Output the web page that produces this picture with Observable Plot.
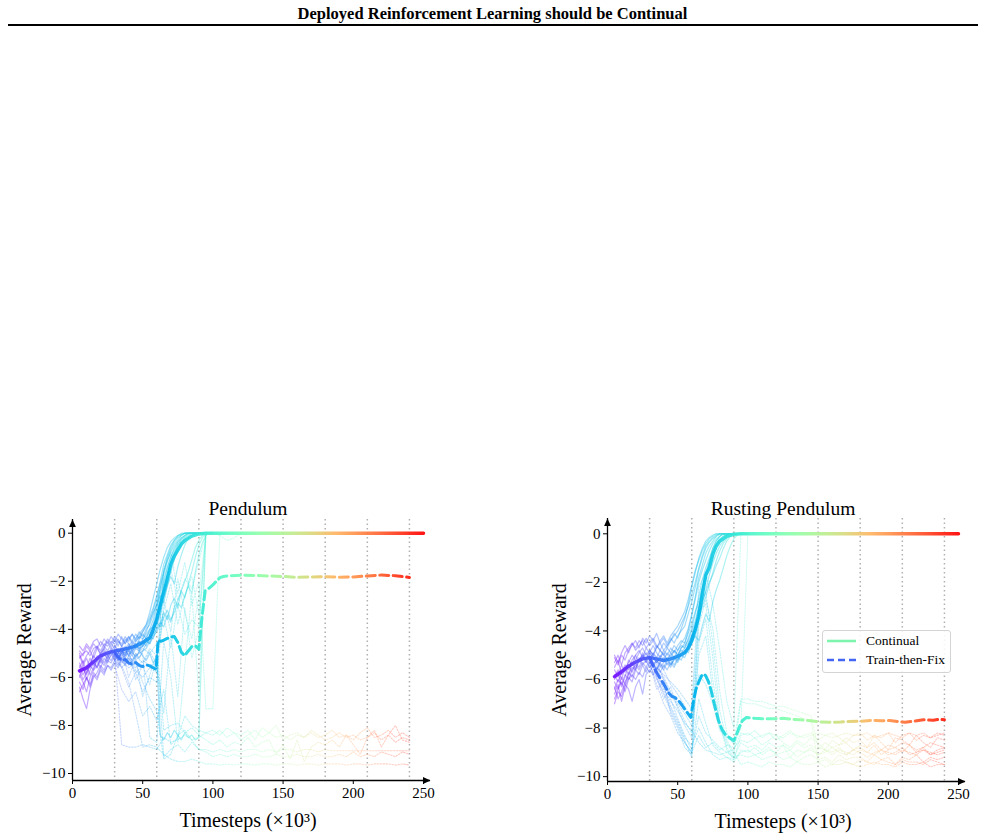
<!DOCTYPE html>
<html>
<head>
<meta charset="utf-8">
<script src="https://cdn.jsdelivr.net/npm/d3@7"></script>
<script src="https://cdn.jsdelivr.net/npm/@observablehq/plot@0.6"></script>
<style>
  body { margin: 0; background: #fff; }
  #page { position: relative; width: 985px; height: 836px; font-family: "Liberation Serif", "Times New Roman", serif; color: #000; }
  #title { position: absolute; left: 0; top: 4px; width: 985px; text-align: center; font-weight: bold; font-size: 16.5px; }
  #rule { position: absolute; left: 8px; top: 24px; width: 970px; height: 2px; background: #000; }
  .panel { position: absolute; top: 490px; }
  #legend { position: absolute; left: 822px; top: 630px; width: 127px; height: 41px; border: 1px solid #d4d4d4; border-radius: 3px; background: rgba(255,255,255,0.85); font-size: 13.5px; }
  #legend .row { position: absolute; left: 4px; height: 19px; display: flex; align-items: center; }
  #legend svg { width: 30px; height: 10px; margin-right: 9px; }
</style>
</head>
<body>
<div id="page">
  <div id="title">Deployed Reinforcement Learning should be Continual</div>
  <div id="rule"></div>
  <div id="p1" class="panel" style="left:0px"></div>
  <div id="p2" class="panel" style="left:535px"></div>
  <div id="legend"></div>
</div>
<script>
// ---- axes, labels and deployment boundaries ----
const deployTimes = [30, 60, 90, 120, 150, 180, 210, 240];
const xTicks = [0, 50, 100, 150, 200, 250];
const yTicks = [-10, -8, -6, -4, -2, 0];
const panelTitles = ["Pendulum", "Rusting Pendulum"];
const xLabel = "Timesteps (×10³)";
const yLabel = "Average Reward";
const seriesNames = ["Continual", "Train-then-Fix"];

// timesteps (×10³) at which the individual runs are sampled
const contSteps = [5, 7.5, 10, 12.5, 15, 17.5, 20, 22.5, 25, 27.5, 30, 32.5, 35, 37.5, 40, 42.5, 45, 47.5, 50, 52.5,
  55, 57.5, 60, 62.5, 65, 67.5, 70, 72.5, 75, 77.5, 80, 82.5, 85, 87.5, 90, 92.5, 95, 97.5, 100];
const fixSteps = [30, 35, 40, 45, 50, 55, 60, 65, 70, 75, 80, 85, 90, 95, 100, 105, 110, 115, 120, 125, 130, 135, 140,
  145, 150, 155, 160, 165, 170, 175, 180, 185, 190, 195, 200, 205, 210, 215, 220, 225, 230, 235, 240];

// ---- Pendulum: mean curves ----
const pendulumContinual = [[5,-5.73],[10,-5.6],[15,-5.35],[20,-5.1],[25,-4.98],[30,-4.9],[35,-4.85],[40,-4.78],[45,-4.7],
  [50,-4.55],[55,-4.35],[57.5,-4.0],[60,-3.6],[62.5,-3.0],[65,-2.45],[67.5,-1.9],[70,-1.3],[72.5,-0.95],[75,-0.7],
  [77.5,-0.45],[80,-0.3],[85,-0.12],[90,-0.03],[95,0],[250,0]];
const pendulumTrainFix = [[30,-4.95],[32.5,-5.15],[35,-5.3],[37.5,-5.25],[40,-5.4],[42.5,-5.45],[45,-5.38],[47.5,-5.5],
  [50,-5.55],[52.5,-5.48],[55,-5.52],[57.5,-5.6],[59.5,-5.66],[61,-4.45],[63,-4.5],[65,-4.45],[67.5,-4.38],[70,-4.32],
  [72.5,-4.3],[75,-4.55],[77.5,-4.95],[80,-5.1],[82.5,-4.9],[85,-4.72],[87.5,-4.68],[90,-4.83],[92,-3.6],[94.5,-2.4],
  [97,-2.3],[100,-2.15],[102.5,-2.0],[105,-1.85],[107.5,-1.8],[110,-1.78],[120,-1.75],[130,-1.76],[140,-1.78],[150,-1.8],
  [160,-1.84],[170,-1.82],[180,-1.81],[190,-1.83],[200,-1.82],[210,-1.78],[220,-1.74],[230,-1.77],[240,-1.84]];

// ---- Pendulum: individual continual runs (sampled at contSteps) ----
const pendulumContinualRuns = [
  [-5.2,-5.0,-4.9,-5.1,-4.8,-4.7,-4.9,-4.6,-4.7,-4.5,-4.6,-4.4,-4.7,-4.5,-4.3,-4.6,-4.4,-4.2,-4.0,-3.8,
   -3.5,-3.1,-2.6,-2.0,-1.3,-0.9,-0.5,-0.3,-0.1,-0.05,0,0,0,0,0,0,0,0,0],
  [-6.4,-6.9,-7.3,-6.5,-6.0,-5.8,-5.5,-5.7,-5.3,-5.4,-5.1,-5.3,-5.0,-5.2,-4.9,-5.1,-4.8,-4.9,-4.7,-4.5,
   -4.6,-4.2,-3.6,-3.0,-2.4,-1.8,-1.2,-0.8,-0.5,-0.3,-0.15,-0.05,0,0,0,0,0,0,0],
  [-5.6,-5.3,-5.8,-5.4,-5.1,-5.3,-5.0,-4.8,-5.1,-4.9,-4.7,-4.9,-5.2,-4.8,-4.6,-4.9,-4.7,-4.5,-4.6,-4.3,
   -4.1,-3.8,-3.2,-2.5,-1.9,-1.4,-1.0,-0.7,-0.4,-0.2,-0.1,0,0,0,0,0,0,0,0],
  [-6.0,-5.6,-5.9,-5.5,-5.7,-5.2,-5.4,-5.0,-5.2,-4.9,-5.1,-4.8,-5.0,-4.7,-4.9,-4.6,-4.8,-4.5,-4.7,-4.4,
   -4.6,-4.3,-4.1,-3.8,-3.3,-3.6,-3.0,-2.7,-3.1,-2.4,-2.0,-1.6,-1.1,-0.6,-0.3,-0.1,0,0,0],
  [-5.0,-5.4,-5.1,-4.9,-5.2,-4.8,-5.0,-4.7,-4.9,-4.6,-4.8,-4.5,-4.7,-4.4,-4.6,-4.8,-4.5,-4.3,-4.4,-4.2,
   -4.0,-3.9,-3.7,-3.9,-3.5,-3.2,-3.6,-3.3,-2.9,-3.1,-2.6,-2.2,-2.5,-1.6,-0.9,-0.4,-0.1,0,0],
  [-5.9,-6.2,-6.6,-6.0,-5.7,-5.5,-5.2,-5.4,-5.1,-5.3,-5.0,-5.2,-4.9,-5.1,-4.8,-5.0,-4.7,-4.8,-4.4,-4.1,
   -3.7,-3.2,-2.7,-2.1,-1.6,-1.1,-0.7,-0.4,-0.2,-0.1,0,0,0,0,0,0,0,0,0],
  [-5.4,-5.7,-5.5,-5.9,-5.6,-5.3,-5.6,-5.2,-5.4,-5.0,-5.3,-5.0,-4.8,-5.1,-4.7,-4.5,-4.7,-4.4,-4.2,-4.4,
   -4.0,-3.6,-3.0,-2.3,-1.6,-1.0,-0.6,-0.3,-0.15,-0.05,0,0,0,0,0,0,0,0,0],
  [-4.9,-5.1,-4.7,-4.9,-4.6,-4.8,-4.5,-4.7,-4.4,-4.6,-4.3,-4.5,-4.6,-4.3,-4.5,-4.2,-4.4,-4.1,-4.3,-4.0,
   -3.8,-3.4,-2.9,-2.3,-1.7,-1.2,-0.8,-0.5,-0.3,-0.1,0,0,0,0,0,0,0,0,0],
  [-5.7,-6.1,-5.8,-5.5,-5.3,-5.6,-5.2,-5.0,-5.3,-5.1,-4.9,-5.2,-5.0,-4.8,-5.1,-4.9,-5.2,-4.9,-5.1,-5.3,
   -5.0,-5.4,-5.2,-8.4,-8.6,-8.3,-8.5,-8.2,-8.4,-8.6,-8.3,-8.5,-8.4,-8.6,-8.5,-4.0,0,0,0],
  [-6.6,-6.3,-6.0,-6.4,-5.9,-6.1,-5.7,-5.9,-5.5,-5.6,-5.3,-5.5,-5.2,-5.4,-5.1,-5.3,-5.0,-5.2,-4.9,-4.8,
   -4.5,-4.0,-3.4,-2.8,-2.1,-1.5,-1.0,-0.6,-0.35,-0.2,-0.1,0,0,0,0,0,0,0,0],
  [-5.8,-5.5,-6.1,-5.7,-5.4,-5.6,-5.3,-5.5,-5.2,-4.9,-5.2,-5.0,-4.7,-4.9,-5.1,-4.8,-4.6,-4.9,-4.5,-4.7,
   -4.3,-4.4,-3.9,-3.4,-2.7,-2.2,-1.6,-1.1,-0.7,-0.4,-0.2,-0.1,0,0,0,0,0,0,0],
  [-5.1,-5.5,-5.2,-5.6,-5.0,-4.7,-5.1,-4.8,-4.5,-4.8,-4.4,-4.7,-4.3,-4.6,-4.4,-4.2,-4.5,-4.3,-4.1,-3.9,
   -3.6,-3.3,-3.0,-2.6,-2.9,-2.2,-1.8,-2.1,-1.4,-0.9,-0.5,-0.2,-0.1,0,0,0,0,0,0],
  [-6.2,-6.5,-6.0,-6.3,-5.8,-6.0,-5.6,-5.8,-5.5,-5.7,-5.4,-5.6,-5.3,-5.5,-5.2,-5.4,-5.1,-5.0,-4.9,-4.6,
   -4.4,-4.1,-3.5,-3.0,-2.4,-1.9,-1.3,-0.9,-0.5,-0.25,-0.1,0,0,0,0,0,0,0,0],
  [-4.7,-4.9,-4.6,-4.8,-4.5,-4.4,-4.7,-4.4,-4.6,-4.3,-4.5,-4.2,-4.4,-4.6,-4.3,-4.5,-4.2,-4.4,-4.1,-3.8,
   -3.3,-2.7,-2.1,-1.5,-1.0,-0.6,-0.35,-0.2,-0.1,0,0,0,0,0,0,0,0,0,0],
  [-5.5,-5.9,-5.6,-5.2,-5.5,-5.1,-5.3,-4.9,-5.1,-4.8,-5.0,-5.3,-4.9,-5.0,-4.7,-4.9,-4.6,-4.8,-4.7,-4.5,
   -4.4,-4.2,-4.0,-3.7,-3.9,-3.4,-3.7,-3.1,-2.8,-2.4,-2.7,-2.1,-1.6,-1.0,-0.5,-0.2,0,0,0]
];

// ---- Pendulum: individual train-then-fix runs (sampled at fixSteps) ----
const pendulumFixRuns = [
  [-5.0,-8.8,-8.9,-8.9,-8.8,-8.9,-9.0,-8.5,-8.7,-8.6,-8.4,-8.6,-8.5,
   -8.3,-8.4,-8.2,-8.5,-8.3,-8.4,-8.2,-8.6,-8.1,-8.3,-8.5,-8.4,-8.6,-8.4,-8.5,-8.3,
   -8.5,-8.4,-8.2,-8.5,-8.4,-8.6,-8.3,-8.1,-8.5,-8.4,-8.2,-8.5,-8.3,-8.5],
  [-5.3,-5.5,-6.2,-7.5,-8.9,-8.8,-8.9,-9.2,-9.4,-9.5,-9.5,-9.4,-9.5,
   -9.6,-9.6,-9.65,-9.6,-9.65,-9.6,-9.6,-9.65,-9.6,-9.6,-9.65,-9.6,-9.6,-9.65,-9.6,-9.6,
   -9.65,-9.6,-9.6,-9.6,-9.65,-9.6,-9.6,-9.65,-9.6,-9.6,-9.6,-9.65,-9.6,-9.65],
  [-4.9,-5.2,-5.0,-5.6,-5.3,-5.5,-5.4,-2.0,-1.5,-2.8,-1.9,-2.3,-1.2,0,0,0,0,0,0],
  [-5.1,-4.8,-6.0,-5.2,-6.8,-5.9,-5.0,-9.3,-9.0,-8.8,-9.1,-8.7,-9.0,
   -9.1,-9.3,-9.2,-9.3,-9.2,-9.3,-9.3,-9.2,-9.3,-9.3,-9.2,-9.3,-9.3,-9.2,-9.3,-9.3,
   -9.2,-9.3,-9.3,-9.2,-9.3,-9.1,-9.3,-9.2,-9.3,-9.1,-9.2,-9.3,-9.1,-9.2],
  [-5.2,-5.6,-5.3,-5.8,-5.5,-6.3,-5.2,-3.5,-4.8,-3.0,-4.2,-3.6,-3.9,0,0,-0.1,-0.3,-0.2,0,0,0,0],
  [-4.7,-5.0,-4.9,-5.1,-4.8,-5.0,-4.6,-8.2,-8.0,-7.9,-8.3,-8.1,-8.4,
   -8.6,-8.8,-8.6,-8.9,-8.7,-8.8,-8.5,-8.9,-8.7,-8.6,-9.2,-8.8,-9.4,-8.6,-9.5,-8.9,
   -8.7,-8.8,-8.6,-8.9,-8.4,-8.8,-9.2,-8.5,-8.2,-8.9,-8.4,-8.0,-8.6,-8.7],
  [-5.0,-5.4,-5.2,-5.7,-6.0,-5.6,-5.8,-1.5,-0.8,-2.5,-1.2,-3.0,-2.0,-7.3,-7.3,0,0,0,0,0,0],
  [-5.5,-6.5,-7.0,-6.6,-7.6,-7.2,-7.8,-6.5,-8.8,-8.5,-7.6,-8.0,-8.2,
   -8.3,-8.2,-8.4,-8.1,-8.3,-8.6,-8.4,-8.2,-8.5,-8.3,-8.0,-8.6,-8.4,-8.3,-8.5,-8.2,
   -8.4,-8.6,-8.5,-8.3,-8.5,-8.4,-8.6,-8.5,-8.3,-8.6,-8.4,-8.7,-8.5,-8.6],
  [-4.8,-5.1,-4.9,-5.3,-5.0,-8.5,-8.7,-4.5,-6.0,-8.7,-5.5,-2.5,-6.8,0,0,0,0,0,0],
  [-5.1,-5.3,-5.6,-5.4,-6.2,-6.9,-7.4,-9.4,-9.2,-8.4,-8.2,-8.6,-9.0,
   -9.0,-9.1,-9.0,-9.1,-9.0,-9.1,-9.0,-9.0,-9.1,-9.0,-9.1,-9.0,-9.0,-9.1,-9.0,-9.0,
   -9.1,-9.0,-9.05,-9.05,-9.05,-9.05,-9.05,-9.05,-9.05,-9.05,-9.05,-9.05,-9.05,-9.05],
  [-5.3,-4.9,-5.5,-5.1,-5.4,-4.8,-5.1,-3.2,-2.1,-3.8,-2.6,-1.8,-3.4,0,0,0,0],
  [-5.0,-5.6,-6.4,-5.8,-6.6,-6.0,-6.2,-2.8,-4.1,-1.9,-3.3,-4.4,-2.6,0,0,0,0],
  [-4.6,-5.3,-4.8,-6.1,-5.5,-4.9,-5.5,-7.5,-4.2,-6.8,-3.1,-5.2,-4.0,0,0,0,0]
];

// ---- Rusting Pendulum: mean curves ----
const rustingContinual = [[5,-5.88],[10,-5.68],[15,-5.45],[20,-5.28],[25,-5.15],[30,-5.1],[35,-5.15],[40,-5.22],[45,-5.15],
  [50,-5.05],[55,-4.9],[57.5,-4.7],[60,-4.4],[62.5,-3.95],[65,-3.4],[67.5,-2.5],[70,-1.7],[72.5,-1.4],[75,-0.85],
  [77.5,-0.5],[80,-0.3],[85,-0.1],[90,-0.02],[95,0],[250,0]];
const rustingTrainFix = [[30,-5.1],[33,-5.5],[36.3,-5.84],[40,-6.18],[43.5,-6.55],[46,-6.7],[48.2,-6.75],[51,-6.9],
  [53,-7.05],[56,-7.3],[59.3,-7.56],[61.3,-6.87],[63,-6.4],[65,-6.1],[67,-5.85],[68.5,-5.77],[70,-5.85],[72,-6.1],
  [74,-6.5],[75.6,-6.9],[77.5,-7.35],[79.1,-7.7],[81.5,-8.05],[84,-8.27],[87,-8.4],[90,-8.52],[92,-8.25],[94,-7.95],
  [96,-7.7],[99,-7.56],[105,-7.6],[110,-7.62],[118,-7.62],[125,-7.6],[132,-7.64],[137,-7.66],[145,-7.7],[150,-7.74],
  [158,-7.76],[166,-7.75],[172,-7.73],[180,-7.72],[188,-7.68],[195,-7.7],[201,-7.69],[207,-7.73],[212,-7.76],
  [218,-7.72],[225,-7.66],[232,-7.68],[236,-7.64],[240,-7.66]];

// ---- Rusting Pendulum: individual continual runs (sampled at contSteps) ----
const rustingContinualRuns = [
  [-5.3,-5.0,-5.4,-4.9,-4.7,-4.5,-4.8,-4.6,-4.4,-4.7,-4.5,-4.3,-4.6,-4.8,-4.5,-4.7,-4.4,-4.2,-4.0,-3.7,
   -3.4,-3.0,-2.5,-2.0,-1.4,-0.9,-0.5,-0.3,-0.15,-0.05,0,0,0,0,0,0,0,0,0],
  [-6.3,-6.8,-6.5,-6.1,-5.8,-5.5,-5.6,-5.2,-5.0,-5.3,-5.1,-5.4,-5.2,-5.5,-5.3,-5.1,-5.4,-5.2,-5.0,-4.8,
   -4.9,-4.6,-4.2,-3.7,-3.1,-2.4,-1.7,-1.2,-0.7,-0.4,-0.2,-0.1,0,0,0,0,0,0,0],
  [-5.8,-6.1,-5.7,-5.4,-5.6,-5.2,-5.0,-4.8,-5.1,-4.7,-4.9,-4.6,-4.9,-5.1,-4.8,-5.0,-4.7,-4.9,-4.6,-4.4,
   -4.5,-4.0,-3.4,-2.7,-2.0,-1.5,-1.1,-0.7,-0.4,-0.2,-0.1,0,0,0,0,0,0,0,0],
  [-6.6,-6.2,-6.9,-6.3,-5.9,-6.1,-5.6,-5.8,-5.4,-5.7,-5.3,-5.5,-5.2,-5.4,-5.6,-5.3,-5.5,-5.1,-5.3,-5.0,
   -4.8,-4.9,-4.5,-4.2,-4.4,-3.8,-3.3,-3.6,-2.8,-2.3,-1.9,-1.4,-0.9,-0.5,-0.2,-0.05,0,0,0],
  [-5.5,-5.2,-5.8,-5.6,-5.3,-5.0,-5.2,-4.9,-4.7,-5.0,-4.8,-5.0,-4.7,-4.5,-4.8,-4.6,-4.3,-4.5,-4.2,-4.0,
   -3.8,-3.3,-2.8,-2.2,-1.5,-1.0,-0.6,-0.35,-0.2,-0.1,0,0,0,0,0,0,0,0,0],
  [-6.0,-5.7,-6.3,-5.9,-5.4,-5.7,-5.3,-5.5,-5.1,-4.9,-5.2,-4.9,-5.1,-4.8,-5.0,-5.2,-4.9,-5.1,-4.8,-4.6,
   -4.7,-4.3,-3.9,-3.3,-2.6,-1.9,-1.4,-1.0,-0.6,-0.3,-0.1,0,0,0,0,0,0,0,0],
  [-5.1,-5.4,-5.0,-5.2,-4.8,-4.6,-4.4,-4.7,-4.3,-4.5,-4.2,-4.4,-4.1,-4.5,-4.3,-4.6,-4.4,-4.1,-4.3,-3.9,
   -3.5,-2.9,-2.2,-1.6,-1.0,-0.6,-0.3,-0.15,-0.05,0,0,0,0,0,0,0,0,0,0],
  [-6.4,-6.0,-6.2,-5.8,-6.0,-5.6,-5.4,-5.6,-5.3,-5.5,-5.2,-5.0,-5.3,-5.1,-4.9,-5.2,-5.0,-4.8,-5.0,-4.7,
   -4.5,-4.1,-3.7,-3.2,-2.8,-2.2,-1.8,-1.3,-0.9,-0.5,-0.25,-0.1,0,0,0,0,0,0,0],
  [-7.0,-6.5,-6.7,-6.2,-6.4,-6.9,-6.3,-6.0,-6.6,-5.8,-5.6,-5.8,-5.5,-5.7,-5.4,-5.6,-5.3,-5.5,-5.2,-5.0,
   -5.1,-4.7,-4.3,-3.9,-3.4,-2.9,-2.3,-1.7,-1.2,-0.8,-0.5,-0.3,-0.1,0,0,0,0,0,0],
  [-5.6,-5.9,-5.4,-5.7,-5.2,-5.4,-5.0,-5.3,-4.9,-5.2,-4.8,-5.0,-4.6,-4.8,-5.0,-4.7,-4.9,-4.6,-4.8,-4.5,
   -4.3,-3.9,-3.3,-2.6,-1.8,-1.3,-0.8,-0.5,-0.3,-0.1,0,0,0,0,0,0,0,0,0],
  [-6.1,-6.4,-5.9,-6.2,-5.7,-5.9,-5.5,-5.1,-5.4,-5.2,-5.5,-5.3,-5.6,-5.3,-5.1,-5.4,-5.2,-5.4,-5.1,-5.2,
   -4.9,-4.7,-4.4,-4.0,-3.5,-3.0,-2.6,-2.1,-1.6,-1.1,-0.7,-0.4,-0.2,-0.05,0,0,0,0,0],
  [-5.0,-5.3,-4.9,-4.6,-4.9,-4.5,-4.7,-4.4,-4.6,-4.3,-4.6,-4.4,-4.7,-4.4,-4.2,-4.5,-4.2,-4.0,-3.8,-3.5,
   -3.2,-2.7,-2.1,-1.5,-1.1,-0.7,-0.4,-0.2,-0.1,0,0,0,0,0,0,0,0,0,0],
  [-6.8,-6.4,-6.1,-6.5,-6.0,-5.8,-6.0,-5.7,-5.9,-5.5,-5.7,-5.4,-5.6,-5.3,-5.5,-5.2,-5.4,-5.1,-5.2,-4.9,
   -4.7,-4.5,-4.2,-3.8,-3.3,-2.8,-2.4,-2.0,-1.7,-1.3,-1.0,-0.6,-0.3,-0.1,0,0,0,0,0],
  [-5.9,-5.6,-6.0,-5.5,-5.8,-5.3,-5.6,-5.2,-5.0,-5.3,-4.9,-5.1,-5.3,-5.0,-5.2,-4.9,-5.1,-4.8,-5.0,-4.7,
   -4.6,-4.4,-4.0,-3.6,-3.0,-2.3,-1.6,-1.1,-0.6,-0.3,-0.1,0,0,0,0,0,0,0,0]
];

// ---- Rusting Pendulum: individual train-then-fix runs (sampled at fixSteps) ----
const rustingFixRuns = [
  [-5.0,-5.8,-6.4,-6.9,-7.3,-7.8,-8.1,-8.6,-8.9,-9.0,-9.1,-9.0,-9.2,
   -9.1,-9.2,-9.1,-9.3,-9.2,-9.1,-9.3,-9.2,-9.4,-9.2,-9.1,-9.3,-9.2,-9.4,-9.1,-9.3,
   -9.2,-9.2,-9.4,-9.1,-9.3,-9.2,-9.5,-9.2,-9.3,-9.1,-9.4,-9.2,-9.3,-9.2],
  [-5.3,-6.2,-7.0,-7.5,-8.2,-8.6,-9.0,-8.3,-8.8,-8.6,-8.9,-8.7,-8.8,
   -8.5,-8.6,-8.4,-8.7,-8.5,-8.3,-8.6,-8.8,-8.5,-8.7,-8.4,-8.6,-8.9,-8.5,-8.7,-8.4,
   -8.6,-8.5,-8.8,-8.3,-8.6,-8.9,-8.4,-8.5,-8.7,-8.3,-8.6,-8.8,-8.4,-8.5],
  [-4.8,-5.1,-5.6,-6.2,-6.6,-7.1,-7.6,-3.0,-2.4,-4.5,-7.3,-8.5,-9.0,
   -9.5,-9.4,-9.5,-9.6,-9.4,-9.5,-9.5,-9.6,-9.4,-9.5,-9.5,-9.4,-9.6,-9.5,-9.5,-9.4,
   -9.5,-9.6,-9.5,-9.4,-9.5,-9.5,-9.6,-9.4,-9.5,-9.5,-9.4,-9.6,-9.5,-9.5],
  [-5.1,-5.4,-5.9,-6.5,-7.0,-7.4,-7.9,-5.8,-6.2,-7.0,-8.1,-8.4,-8.6,
   -6.8,-6.8,-6.9,-6.9,-7.0,-7.1,-7.1,-7.2,-7.3,-7.4,-7.5,-8.8,-8.9,-9.1,-8.9,-9.0,
   -9.1,-8.9,-9.0,-9.1,-8.9,-9.0,-9.1,-8.9,-9.0,-9.1,-8.9,-9.0,-9.1,-9.0],
  [-5.2,-5.5,-5.8,-6.1,-6.4,-6.8,-7.2,-2.2,-1.6,-2.9,-4.8,-6.9,-8.0,0,0,0,0,0,0],
  [-4.9,-5.3,-6.0,-6.8,-7.6,-8.3,-8.9,-7.5,-8.2,-8.5,-8.8,-9.0,-8.9,
   -8.2,-8.3,-8.1,-8.4,-8.2,-8.5,-8.3,-8.1,-8.4,-8.3,-8.2,-8.5,-8.3,-8.2,-8.4,-8.6,
   -8.3,-8.2,-8.5,-8.3,-8.4,-8.2,-8.6,-8.3,-8.2,-8.5,-8.3,-8.4,-8.2,-8.3],
  [-5.4,-6.0,-6.5,-7.2,-7.8,-8.5,-9.2,-4.5,-3.5,-6.0,-8.0,-8.6,-9.1,
   -6.9,-7.0,-7.0,-7.1,-7.2,-7.2,-7.3,-7.4,-7.5,-7.6,-7.7,-9.4,-9.3,-9.5,-9.3,-9.4,
   -9.5,-9.3,-9.4,-9.5,-9.3,-9.4,-9.5,-9.3,-9.4,-9.4,-9.5,-9.3,-9.4,-9.5],
  [-5.0,-5.7,-6.3,-7.1,-7.7,-8.4,-8.7,-8.0,-8.6,-9.1,-9.3,-9.2,-9.4,
   -8.9,-9.0,-8.8,-9.1,-8.9,-9.0,-8.7,-9.2,-8.9,-9.0,-8.8,-9.1,-8.9,-9.0,-8.8,-9.1,
   -8.9,-8.8,-9.0,-8.7,-9.1,-8.9,-8.8,-9.0,-8.7,-9.0,-8.8,-9.1,-8.9,-8.8],
  [-5.1,-5.6,-6.0,-6.6,-7.1,-7.7,-8.2,-3.8,-2.7,-3.9,-6.5,-8.2,-8.7,-8.0,0,0,0,0,0,0],
  [-5.2,-5.9,-6.6,-7.3,-7.9,-8.6,-9.0,-6.8,-7.8,-8.7,-9.0,-9.2,-9.3,
   -8.3,-8.2,-8.4,-8.3,-8.2,-8.3,-8.4,-8.2,-8.3,-8.4,-8.3,-8.2,-8.3,-8.4,-8.3,-8.2,
   -8.3,-8.3,-8.2,-8.4,-8.3,-8.2,-8.3,-8.4,-8.2,-8.3,-8.2,-8.4,-8.3,-8.2],
  [-5.0,-5.9,-6.8,-6.3,-7.2,-7.9,-8.4,-5.0,-4.2,-6.5,-7.7,-8.8,-9.2,
   -8.6,-8.8,-8.7,-8.9,-8.6,-8.8,-8.7,-8.9,-8.6,-8.8,-8.7,-8.9,-8.6,-8.8,-8.7,-8.6,
   -8.9,-8.7,-8.8,-8.6,-8.9,-8.7,-8.8,-8.6,-8.7,-8.9,-8.8,-8.6,-8.7,-8.8],
  [-5.3,-6.4,-6.1,-7.4,-8.0,-8.8,-9.1,-3.2,-2.9,-5.1,-7.9,-8.9,-9.3,
   -9.0,-8.9,-9.1,-9.0,-8.8,-9.1,-9.0,-8.9,-9.2,-9.0,-8.9,-9.1,-9.0,-8.8,-9.0,-9.1,
   -8.9,-9.0,-9.2,-9.0,-8.9,-9.1,-9.0,-8.8,-9.1,-9.0,-8.9,-9.1,-9.0,-8.9]
];

// matplotlib-style "rainbow" colour map (purple → blue → green → orange → red)
function rainbow(t) {
  const r = Math.min(1, Math.abs(2 * t - 0.5));
  const g = Math.sin(Math.PI * t);
  const b = Math.cos(Math.PI * t / 2);
  return d3.rgb(r * 255, g * 255, b * 255).formatHex();
}

// filled arrowheads whose tip sits on the anchor point
const arrowUp = {draw(ctx, size) {
  const r = Math.sqrt(size / Math.PI);
  ctx.moveTo(0, 0); ctx.lineTo(r, 2.2 * r); ctx.lineTo(-r, 2.2 * r); ctx.closePath();
}};
const arrowRight = {draw(ctx, size) {
  const r = Math.sqrt(size / Math.PI);
  ctx.moveTo(0, 0); ctx.lineTo(-2.2 * r, -r); ctx.lineTo(-2.2 * r, r); ctx.closePath();
}};

const serif = '"Liberation Serif", "Times New Roman", serif';
const fmtTick = d => d < 0 ? "\u2212" + (-d) : String(d);

function toRows(runs, steps) {
  return runs.flatMap((ys, k) => ys.map((y, i) => ({run: k, x: steps[i], y})));
}

function drawPanel({id, title, yDomain, marginTop, marginBottom, contMean, fixMean, contRuns, fixRuns}) {
  const gid = "timeGradient-" + id;
  const paint = `url(#${gid})`;
  const [yBottom, yTop] = yDomain;
  const xMax = 255;
  const chart = Plot.plot({
    width: 440,
    height: 346,
    marginLeft: 72,
    marginRight: 10,
    marginTop,
    marginBottom,
    x: {domain: [0, xMax]},
    y: {domain: yDomain},
    style: {fontFamily: serif, fontSize: "15px", color: "#000", background: "transparent", overflow: "visible"},
    marks: [
      Plot.ruleX(deployTimes, {stroke: "#b0b0b0", strokeWidth: 1.5, strokeDasharray: "1.5,3"}),
      Plot.line(toRows(fixRuns, fixSteps), {x: "x", y: "y", z: "run", stroke: paint, strokeWidth: 1.1, strokeOpacity: 0.27, strokeDasharray: "1.5,1.5"}),
      Plot.line(toRows(contRuns, contSteps), {x: "x", y: "y", z: "run", stroke: paint, strokeWidth: 1.2, strokeOpacity: 0.38}),
      Plot.line(contMean, {x: d => d[0], y: d => d[1], stroke: paint, strokeWidth: 3.5, strokeOpacity: 0.92}),
      Plot.line(fixMean, {x: d => d[0], y: d => d[1], stroke: paint, strokeWidth: 3, strokeOpacity: 0.95, strokeDasharray: "9,4.5"}),
      Plot.ruleX([0], {stroke: "#000", strokeWidth: 1.3}),
      Plot.ruleY([yBottom], {stroke: "#000", strokeWidth: 1.3}),
      Plot.dot([[0, yTop]], {x: d => d[0], y: d => d[1], symbol: arrowUp, r: 3.4, fill: "#000", stroke: "none"}),
      Plot.dot([[xMax, yBottom]], {x: d => d[0], y: d => d[1], symbol: arrowRight, r: 3.4, fill: "#000", stroke: "none"}),
      Plot.axisX({ticks: xTicks, tickSize: 4, tickPadding: 3, label: null, tickFormat: d => String(d), fontSize: 15, fontFamily: serif}),
      Plot.axisY({ticks: yTicks, tickSize: 4, tickPadding: 3, label: null, tickFormat: fmtTick, fontSize: 15, fontFamily: serif}),
      Plot.text([title], {x: () => 125, text: d => d, frameAnchor: "top", lineAnchor: "middle", dy: 18 - marginTop, fontSize: 19.5, fontFamily: serif}),
      Plot.text([xLabel], {x: () => 125, text: d => d, frameAnchor: "bottom", lineAnchor: "middle", dy: 40, fontSize: 20, fontFamily: serif}),
      Plot.text([yLabel], {y: () => (yBottom + yTop) / 2, text: d => d, frameAnchor: "left", textAnchor: "middle", lineAnchor: "middle", dx: -48, rotate: -90, fontSize: 20, fontFamily: serif})
    ]
  });

  // colour every curve by timestep with a horizontal gradient in plot space
  const xs = chart.scale("x");
  const toPx = v => (xs.apply ? xs.apply(v) : 72 + (v / xMax) * 358);
  const ns = "http://www.w3.org/2000/svg";
  const defs = document.createElementNS(ns, "defs");
  const lg = document.createElementNS(ns, "linearGradient");
  lg.setAttribute("id", gid);
  lg.setAttribute("gradientUnits", "userSpaceOnUse");
  lg.setAttribute("x1", toPx(0));
  lg.setAttribute("x2", toPx(250));
  lg.setAttribute("y1", 0);
  lg.setAttribute("y2", 0);
  for (let i = 0; i <= 24; i++) {
    const stop = document.createElementNS(ns, "stop");
    stop.setAttribute("offset", i / 24);
    stop.setAttribute("stop-color", rainbow(i / 24));
    lg.appendChild(stop);
  }
  defs.appendChild(lg);
  chart.insertBefore(defs, chart.firstChild);
  document.getElementById(id).appendChild(chart);
}

drawPanel({id: "p1", title: panelTitles[0], yDomain: [-10.29, 0.57], marginTop: 29, marginBottom: 56,
  contMean: pendulumContinual, fixMean: pendulumTrainFix, contRuns: pendulumContinualRuns, fixRuns: pendulumFixRuns});
drawPanel({id: "p2", title: panelTitles[1], yDomain: [-10.2, 0.63], marginTop: 28, marginBottom: 55,
  contMean: rustingContinual, fixMean: rustingTrainFix, contRuns: rustingContinualRuns, fixRuns: rustingFixRuns});

// legend for the two strategies
const legendStyles = [
  {color: "#7df5ad", dash: null},
  {color: "#4466f5", dash: "7,4"}
];
const legend = document.getElementById("legend");
seriesNames.forEach((name, i) => {
  const row = document.createElement("div");
  row.className = "row";
  row.style.top = (i === 0 ? 0 : 19) + "px";
  const dash = legendStyles[i].dash ? ` stroke-dasharray="${legendStyles[i].dash}"` : "";
  row.innerHTML = `<svg viewBox="0 0 30 10"><line x1="0" y1="5" x2="29" y2="5" stroke="${legendStyles[i].color}" stroke-width="2.6"${dash}/></svg><span>${name}</span>`;
  legend.appendChild(row);
});
</script>
</body>
</html>
